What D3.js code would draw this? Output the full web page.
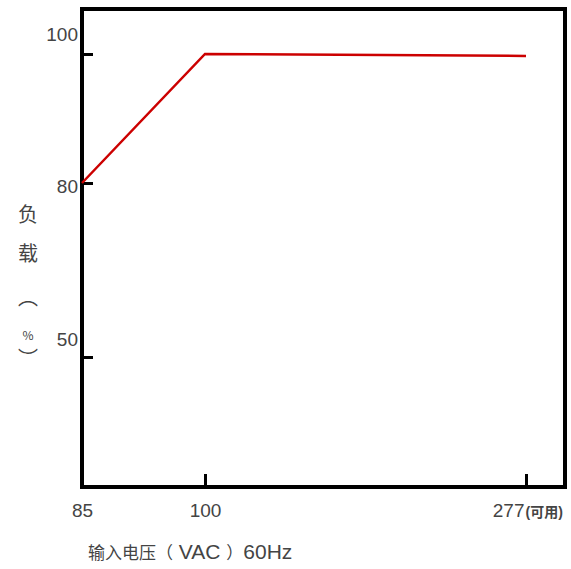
<!DOCTYPE html>
<html>
<head>
<meta charset="utf-8">
<script src="https://cdn.jsdelivr.net/npm/d3@7"></script>
<style>
  body { margin: 0; background: #fff; }
  text { font-family: "Liberation Sans", Arial, "Noto Sans CJK SC", sans-serif; fill: #444; }
  .cjk { font-family: "Noto Sans CJK SC", sans-serif; }
</style>
</head>
<body>
<svg id="chart" width="571" height="569"></svg>
<script>
// input voltage (VAC) vs load (%)
var voltages = [85, 100, 277];
var loads = [80, 100, 99.7];

var xTicks = [85, 100, 277];
var xTickLabels = ['85', '100', '277'];
var yTicks = [50, 80, 100];
var yTickLabels = ['50', '80', '100'];

var svg = d3.select('#chart');

// note: "top" is taken by window.top, so plot edges get their own names
var plotL = 82, plotR = 565, plotT = 9, plotB = 487;

// tick spacing on the original sheet is not even, so piecewise scales
var x = d3.scaleLinear().domain([85, 100, 277]).range([plotL, 205, 526]);
var y = d3.scaleLinear().domain([50, 80, 100]).range([357, 183, 54]);

// frame
svg.append('rect')
  .attr('x', plotL).attr('y', plotT)
  .attr('width', plotR - plotL).attr('height', plotB - plotT)
  .attr('fill', 'none').attr('stroke', '#000').attr('stroke-width', 4);

// y axis, ticks pointing inward
var yAxis = svg.append('g')
  .attr('transform', 'translate(' + plotL + ',0)')
  .call(d3.axisLeft(y).tickValues(yTicks).tickSize(-11).tickPadding(4)
    .tickFormat(function(d, i){ return yTickLabels[i]; }));
yAxis.select('.domain').remove();
yAxis.selectAll('.tick line').attr('stroke', '#000').attr('stroke-width', 3);
var yLabelShift = [-19, 2, -21];
yAxis.selectAll('.tick text')
  .attr('font-size', 19)
  .attr('dy', function(d, i){ return (yLabelShift[i] + 7) + 'px'; });

// x axis, ticks pointing inward
var xAxis = svg.append('g')
  .attr('transform', 'translate(0,' + plotB + ')')
  .call(d3.axisBottom(x).tickValues(xTicks).tickSize(-13).tickPadding(17)
    .tickFormat(function(d, i){ return xTickLabels[i]; }));
xAxis.select('.domain').remove();
xAxis.selectAll('.tick line').attr('stroke', '#000').attr('stroke-width', 3)
  .attr('opacity', function(d){ return d === 85 ? 0 : 1; });
xAxis.selectAll('.tick text').attr('font-size', 19)
  .attr('text-anchor', function(d){ return d === 277 ? 'end' : 'middle'; })
  .attr('dx', function(d){ return d === 277 ? '-2px' : '0'; });

// "(可用)" after the 277 label
xAxis.selectAll('.tick').filter(function(d){ return d === 277; })
  .append('text')
  .attr('x', -1).attr('y', 17).attr('dy', '0.9em')
  .attr('text-anchor', 'start')
  .attr('font-size', 14)
  .attr('font-weight', 'bold')
  .attr('fill', '#555')
  .text('(可用)');

// load curve
var line = d3.line()
  .x(function(d, i){ return x(voltages[i]); })
  .y(function(d){ return y(d); });

svg.append('path')
  .datum(loads)
  .attr('d', line)
  .attr('fill', 'none')
  .attr('stroke', '#cc0000')
  .attr('stroke-width', 2.5);

// axis titles
var xTitle = svg.append('text')
  .attr('x', 88).attr('y', 559);
xTitle.append('tspan').attr('class', 'cjk').attr('font-size', 17).text('输入电压（');
xTitle.append('tspan').attr('font-size', 21).text(' VAC ');
xTitle.append('tspan').attr('class', 'cjk').attr('font-size', 17).text('）');
xTitle.append('tspan').attr('font-size', 21).text('60Hz');

var yTitle = [
  { t: '负', y: 222, s: 20 },
  { t: '载', y: 261, s: 20 },
  { t: '︵', y: 305, s: 20 },
  { t: '%', y: 340, s: 12 },
  { t: '︶', y: 366, s: 20 }
];
svg.selectAll('.ytitle').data(yTitle).enter().append('text')
  .attr('class', 'cjk ytitle')
  .attr('x', 28).attr('y', function(d){ return d.y; })
  .attr('text-anchor', 'middle')
  .attr('font-size', function(d){ return d.s; })
  .text(function(d){ return d.t; });
</script>
</body>
</html>
